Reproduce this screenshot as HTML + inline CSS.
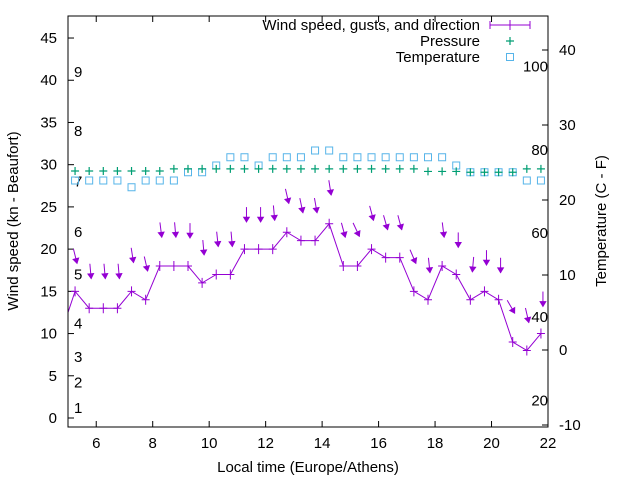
<!DOCTYPE html>
<html><head><meta charset="utf-8">
<style>
html,body{margin:0;padding:0;background:#fff;}
svg{display:block;font-family:"Liberation Sans",sans-serif;}
</style></head>
<body>
<svg id="chart" width="640" height="480" viewBox="0 0 640 480" xmlns="http://www.w3.org/2000/svg"></svg>
<script>
const hours = [5.25,5.75,6.25,6.75,7.25,7.75,8.25,8.75,9.25,9.75,10.25,10.75,11.25,11.75,12.25,12.75,13.25,13.75,14.25,14.75,15.25,15.75,16.25,16.75,17.25,17.75,18.25,18.75,19.25,19.75,20.25,20.75,21.25,21.75];
const windSpeed = [15,13,13,13,15,14,18,18,18,16,17,17,20,20,20,22,21,21,23,18,18,20,19,19,15,14,18,17,14,15,14,9,8,10];
const gusts = [18.3,16.5,16.5,16.5,18.4,17.4,21.4,21.4,21.3,19.3,20.3,20.3,23.2,23.2,23.4,25.4,24.3,24.3,26.4,21.4,21.5,23.4,22.3,22.3,18.3,17.2,21.4,20.2,17.3,18.1,17.2,12.4,11.3,13.2];
const windDirDev = [14,5,5,5,9,13,7,5,0,5,6,5,0,0,5,13,12,10,9,15,25,15,16,15,23,6,7,0,-5,0,0,30,13,0];
const pressure = [29.25,29.25,29.25,29.25,29.25,29.25,29.25,29.5,29.5,29.5,29.5,29.5,29.5,29.5,29.5,29.5,29.5,29.5,29.5,29.5,29.5,29.5,29.5,29.5,29.5,29.2,29.2,29.2,29.1,29.1,29.1,29.1,29.5,29.5];
const temperature = [22.6,22.6,22.6,22.6,21.7,22.6,22.6,22.6,23.7,23.7,24.6,25.7,25.7,24.6,25.7,25.7,25.7,26.6,26.6,25.7,25.7,25.7,25.7,25.7,25.7,25.7,25.7,24.6,23.7,23.7,23.7,23.7,22.6,22.6];
const xTicks = [6,8,10,12,14,16,18,20,22];
const yLeftTicks = [0,5,10,15,20,25,30,35,40,45];
const yRightTicks = [-10,0,10,20,30,40];
const beaufortLabels = ["1","2","3","4","5","6","7","8","9"];
const beaufortKn = [1.2,4.2,7.2,11.2,17,22,28,34,41];
const fahrLabels = ["20","40","60","80","100"];
const fahrC = [-6.7,4.4,15.6,26.7,37.8];

const L=68,R=548,T=16,B=427;
const X = h => L + (h-5)*(R-L)/17;
const YL = v => 418 - v*8.444;
const YR = v => 350 - v*7.5;
const svg=document.getElementById('chart');
const NS='http://www.w3.org/2000/svg';
function mk(tag,attrs,parent){const e=document.createElementNS(NS,tag);for(const k in attrs)e.setAttribute(k,attrs[k]);(parent||svg).appendChild(e);return e;}
function txt(s,x,y,anchor,parent){const t=mk('text',{x:x,y:y,'font-size':15,'text-anchor':anchor||'middle',fill:'#000'},parent);t.textContent=s;return t;}

const defs=mk('defs',{});const cp=mk('clipPath',{id:'pc'},defs);mk('rect',{x:L,y:T,width:R-L,height:B-T},cp);

const axes=mk('g',{});


xTicks.forEach(h=>{const x=X(h);
 mk('line',{x1:x,y1:B,x2:x,y2:B-6,stroke:'#000'},axes);
 mk('line',{x1:x,y1:T,x2:x,y2:T+6,stroke:'#000'},axes);
 const t=txt(String(h),x,448,'middle',axes);
 
 });
yLeftTicks.forEach(v=>{const y=YL(v);
 mk('line',{x1:L,y1:y,x2:L+6,y2:y,stroke:'#000'},axes);
 const t=txt(String(v),57,y+5,'end',axes);
 
 });
yRightTicks.forEach(v=>{const y=YR(v);
 mk('line',{x1:R,y1:y,x2:R-6,y2:y,stroke:'#000'},axes);
 const t=txt(String(v),559,y+5,'start',axes);
 
 });
beaufortLabels.forEach((s,i)=>{const t=txt(s,74,YL(beaufortKn[i])+5,'start',axes);
 
 });
fahrLabels.forEach((s,i)=>{const t=txt(s,548,YR(fahrC[i])+5,'end',axes);
 
 });

const xt=txt('Local time (Europe/Athens)',308,472,'middle');


const yt=txt('Wind speed (kn - Beaufort)',0,0,'middle');
yt.setAttribute('transform','translate(18,221) rotate(-90)');


const yt2=txt('Temperature (C - F)',0,0,'middle');
yt2.setAttribute('transform','translate(606,221) rotate(-90)');



const plot=mk('g',{'clip-path':'url(#pc)'});



temperature.forEach((v,i)=>{const r=mk('rect',{x:X(hours[i])-3.5,y:YR(v)-3.5,width:7,height:7,fill:'none',stroke:'#56b4e9','stroke-width':1},plot);
 
 });
pressure.forEach((v,i)=>{const x=X(hours[i]),y=YL(v);
 const p=mk('path',{d:`M${x-4},${y}H${x+4}M${x},${y-4}V${y+4}`,stroke:'#009e73','stroke-width':1.2},plot);
 
 });
let d=`M${X(4.75)},${YL(10)}`;
windSpeed.forEach((v,i)=>{d+=`L${X(hours[i])},${YL(v)}`;});
const wl=mk('path',{d:d,fill:'none',stroke:'#9400d3','stroke-width':1},plot);


windSpeed.forEach((v,i)=>{const x=X(hours[i]),y=YL(v);
 const p=mk('path',{d:`M${x-4},${y}H${x+4}M${x},${y-5}V${y+5}`,stroke:'#9400d3','stroke-width':1},plot);
 
 });
gusts.forEach((g,i)=>{const hx=X(hours[i])+2,hy=YL(g);
 const a=windDirDev[i]*Math.PI/180,len=15;
 const ux=Math.sin(a),uy=Math.cos(a);
 const tx=hx-ux*len,ty=hy-uy*len;
 const px=-uy,py=ux;
 const bx=hx-ux*5,by=hy-uy*5;
 const grp=mk('g',{},plot);
 
 
 mk('line',{x1:tx,y1:ty,x2:hx,y2:hy,stroke:'#9400d3','stroke-width':1},grp);
 mk('path',{d:`M${hx},${hy}L${bx+px*3},${by+py*3}L${bx-px*3},${by-py*3}Z`,fill:'#9400d3',stroke:'#9400d3','stroke-width':0.8},grp);});

const bd=mk('rect',{x:L,y:T,width:R-L,height:B-T,fill:'none',stroke:'#000','stroke-width':1});



const lg=mk('g',{});


const l1=txt('Wind speed, gusts, and direction',480,30,'end',lg);


mk('path',{d:'M490,25H530M490,21V29M530,21V29M510,20V30',stroke:'#9400d3','stroke-width':1},lg);
const l2=txt('Pressure',480,46,'end',lg);


mk('path',{d:'M506,41H514M510,37V45',stroke:'#009e73','stroke-width':1.2},lg);
const l3=txt('Temperature',480,62,'end',lg);


mk('rect',{x:506.5,y:53.5,width:7,height:7,fill:'none',stroke:'#56b4e9'},lg);
</script>
</body></html>
